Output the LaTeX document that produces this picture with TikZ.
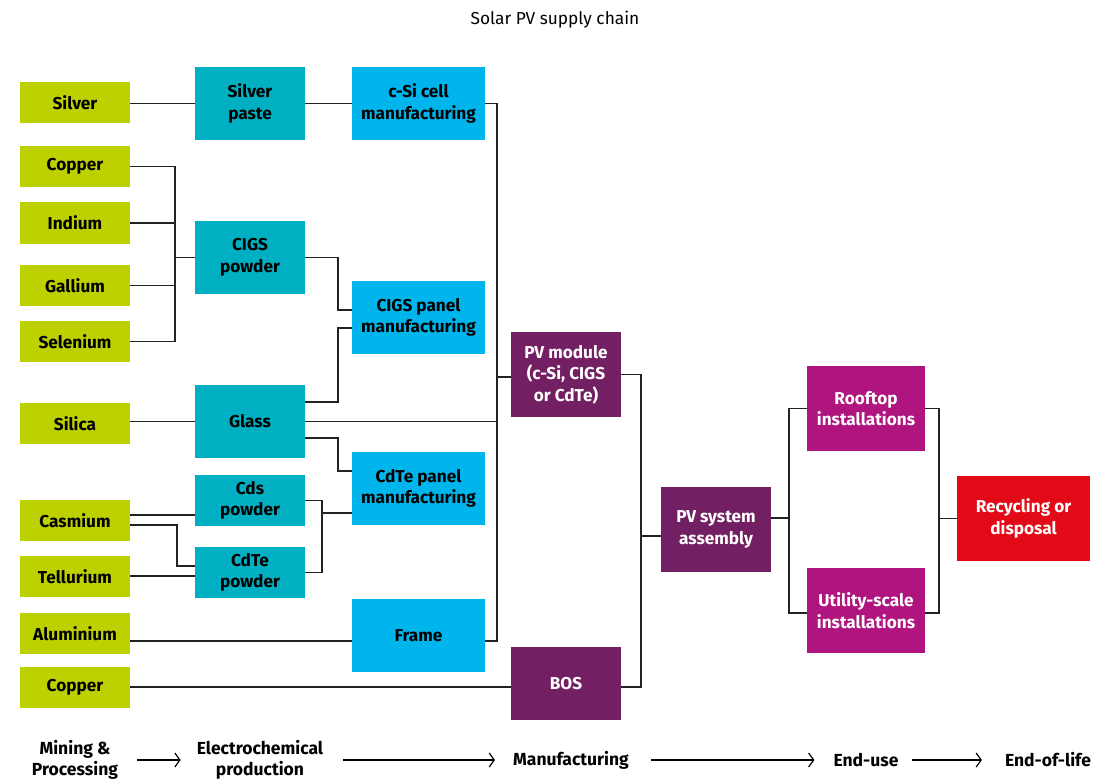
\documentclass[tikz,border=0pt]{standalone}
\usepackage{fontspec}
\setmainfont{Fira Sans}
\usetikzlibrary{arrows.meta,calc}
\definecolor{cgreen}{HTML}{BDD000}
\definecolor{cteal}{HTML}{00B0C2}
\definecolor{cblue}{HTML}{00B5EC}
\definecolor{cpurple}{HTML}{731F63}
\definecolor{cmagenta}{HTML}{B0147F}
\definecolor{cred}{HTML}{E30A17}
\definecolor{cline}{HTML}{222222}
\begin{document}
\begin{tikzpicture}[x=1pt,y=-1pt,
  box/.style={rectangle, inner sep=0pt, outer sep=0pt, align=center,
    font=\fontsize{17.2}{21.5}\selectfont\bfseries},
  gbox/.style={box, fill=cgreen, minimum width=110pt, minimum height=41pt},
  tbox/.style={box, fill=cteal, minimum width=110pt, minimum height=73pt},
  bbox/.style={box, fill=cblue, minimum width=133pt, minimum height=73pt},
  pbox/.style={box, fill=cpurple, text=white, minimum width=110pt, minimum height=85pt},
  mbox/.style={box, fill=cmagenta, text=white, minimum width=118pt, minimum height=85pt},
  rbox/.style={box, fill=cred, text=white, minimum width=133pt, minimum height=85pt},
  conn/.style={draw=cline, line width=1.3pt},
  flow/.style={draw=black, line width=1.2pt, -{Straight Barb[length=5pt,width=14pt,line width=1.2pt]}},
  lbl/.style={align=center, inner sep=0pt, font=\fontsize{17.5}{21}\selectfont\bfseries},
  ttl/.style={inner sep=0pt, font=\fontsize{17.3}{20}\selectfont}]
\fill[white] (0,0) rectangle (1093,781);
\useasboundingbox (0,0) rectangle (1093,781);

\node[ttl] (title) at (555,19.5) {Solar PV supply chain};

% mining & processing
\node[gbox] (silver)    at (75,102.5) {Silver};
\node[gbox] (copper1)   at (75,166.5) {Copper};
\node[gbox] (indium)    at (75,223)   {Indium};
\node[gbox] (gallium)   at (75,285.5) {Gallium};
\node[gbox] (selenium)  at (75,341.5) {Selenium};
\node[gbox] (silica)    at (75,423.5) {Silica};
\node[gbox] (casmium)   at (75,520.5) {Casmium};
\node[gbox] (tellurium) at (75,576.5) {Tellurium};
\node[gbox] (alu)       at (75,633.5) {Aluminium};
\node[gbox] (copper2)   at (75,687.5) {Copper};

% electrochemical production
\node[tbox] (silverpaste) at (250,103.5) {Silver\\paste};
\node[tbox] (cigspow)     at (250,257.5) {CIGS\\powder};
\node[tbox] (glass)       at (250,421.5) {Glass};
\node[tbox, minimum height=51pt] (cds)     at (250,500.5) {Cds\\powder};
\node[tbox, minimum height=51pt] (cdtepow) at (250,572.5) {CdTe\\powder};

% manufacturing
\node[bbox] (csi)       at (418.5,103.5) {c-Si cell\\manufacturing};
\node[bbox] (cigspanel) at (418.5,317.5) {CIGS panel\\manufacturing};
\node[bbox] (cdtepanel) at (418.5,488.5) {CdTe panel\\manufacturing};
\node[bbox] (frame)     at (418.5,635.5) {Frame};

\node[pbox] (pvmod) at (566,374.5) {PV module\\(c-Si, CIGS\\or CdTe)};
\node[pbox, minimum height=73pt] (bos) at (566,683.5) {BOS};
\node[pbox] (pvsys) at (716,529.5) {PV system\\assembly};

% end-use and end-of-life
\node[mbox] (rooftop) at (866,408.5) {Rooftop\\installations};
\node[mbox] (utility) at (866,610.5) {Utility-scale\\installations};
\node[rbox] (recyc)   at (1023.5,518.5) {Recycling or\\disposal};

% bus coordinates
\coordinate (busG) at (175,0);
\coordinate (xC) at (338,0);
\coordinate (busM) at (497,0);
\coordinate (xK) at (177,0);
\coordinate (xD) at (322,0);
\coordinate (xS) at (641,0);
\coordinate (xE) at (789,0);
\coordinate (xR) at (939,0);

% silver
\draw[conn] (silverpaste.west -| silver.east) -- (silverpaste.west);
\draw[conn] (silverpaste.east) -- (csi.west);

% CIGS materials
\draw[conn] (copper1.east) -| (busG |- selenium.east) -- (selenium.east);
\draw[conn] (indium.east) -- (busG |- indium.east);
\draw[conn] (gallium.east) -- (busG |- gallium.east);
\draw[conn] (busG |- cigspow.west) -- (cigspow.west);

\coordinate (cpIn1) at ([yshift=7.5pt]cigspanel.west);
\draw[conn] (cigspow.east) -| (xC |- cpIn1) -- (cpIn1);
\coordinate (glUp) at ([yshift=19.5pt]glass.east);
\coordinate (cpIn2) at ([yshift=-10.5pt]cigspanel.west);
\draw[conn] (glUp) -| (xC |- cpIn2) -- (cpIn2);
\coordinate (glDn) at ([yshift=-16.5pt]glass.east);
\coordinate (ctIn1) at ([yshift=17.5pt]cdtepanel.west);
\draw[conn] (glDn) -| (xC |- ctIn1) -- (ctIn1);

% silica
\draw[conn] (glass.west -| silica.east) -- (glass.west);
\draw[conn] (glass.east) -- (busM |- glass.east);

% module bus
\coordinate (frOut) at ([yshift=-5.5pt]frame.east);
\draw[conn] (csi.east) -| (busM |- frOut) -- (frOut);
\coordinate (pmIn) at ([yshift=-2.5pt]pvmod.west);
\draw[conn] (busM |- pmIn) -- (pmIn);
\coordinate (frIn) at ([yshift=-5.5pt]frame.west);
\draw[conn] (frIn -| alu.east) -- (frIn);

% CdTe materials
\coordinate (caUp) at ([yshift=5.5pt]casmium.east);
\draw[conn] (caUp) -- (caUp -| cds.west);
\coordinate (caDn) at ([yshift=-4.5pt]casmium.east);
\coordinate (ctpIn) at ([yshift=6.5pt]cdtepow.west);
\draw[conn] (caDn) -| (xK |- ctpIn) -- (ctpIn);
\coordinate (teIn) at ([yshift=-3.5pt]cdtepow.west);
\draw[conn] (teIn -| tellurium.east) -- (teIn);
\draw[conn] (cds.east) -| (xD |- cdtepow.east) -- (cdtepow.east);
\coordinate (ctIn2) at ([yshift=-24.5pt]cdtepanel.west);
\draw[conn] (xD |- ctIn2) -- (ctIn2);

% BOS and system
\coordinate (bosIn) at ([yshift=-3.5pt]bos.west);
\draw[conn] (bosIn -| copper2.east) -- (bosIn);
\coordinate (bosOut) at ([yshift=-3.5pt]bos.east);
\draw[conn] (pvmod.east) -| (xS |- bosOut) -- (bosOut);
\coordinate (sysIn) at ([yshift=-6.5pt]pvsys.west);
\draw[conn] (xS |- sysIn) -- (sysIn);
\coordinate (sysOut) at ([yshift=11.5pt]pvsys.east);
\draw[conn] (sysOut) -- (xE |- sysOut);
\coordinate (utIn) at ([yshift=-2.5pt]utility.west);
\draw[conn] (rooftop.west) -| (xE |- utIn) -- (utIn);
\coordinate (utOut) at ([yshift=-2.5pt]utility.east);
\draw[conn] (rooftop.east) -| (xR |- utOut) -- (utOut);
\draw[conn] (xR |- recyc.west) -- (recyc.west);

% stage labels
\node[lbl] (mining)  at (75,760)   {Mining \&\\Processing};
\node[lbl] (electro) at (260,760)  {Electrochemical\\production};
\node[lbl] (manuf)   at (571,760)  {Manufacturing};
\node[lbl] (enduse)  at (866,760)  {End-use};
\node[lbl] (eol)     at (1048,760) {End-of-life};
\draw[flow] ([xshift=19pt]mining.east) -- ([xshift=-16pt]electro.west);
\draw[flow] ([xshift=20pt]electro.east) -- ([xshift=-18pt]manuf.west);
\draw[flow] ([xshift=22pt]manuf.east) -- ([xshift=-19pt]enduse.west);
\draw[flow] ([xshift=13pt]enduse.east) -- ([xshift=-23pt]eol.west);
\end{tikzpicture}
\end{document}
